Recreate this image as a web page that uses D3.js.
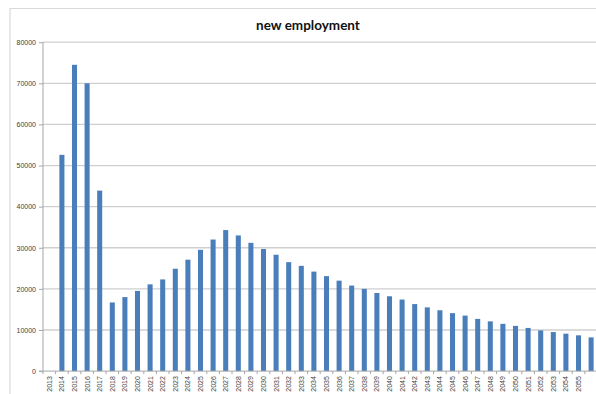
<!DOCTYPE html>
<html>
<head>
<meta charset="utf-8">
<script src="https://cdn.jsdelivr.net/npm/d3@7"></script>
<style>
  html, body { margin: 0; padding: 0; background: #fff; }
  svg { display: block; }
</style>
</head>
<body>
<svg id="chart" width="596" height="394"></svg>
<script>
// Years on the category axis
const years = [
  "2013","2014","2015","2016","2017","2018","2019","2020","2021","2022","2023",
  "2024","2025","2026","2027","2028","2029","2030","2031","2032","2033","2034",
  "2035","2036","2037","2038","2039","2040","2041","2042","2043","2044","2045",
  "2046","2047","2048","2049","2050","2051","2052","2053","2054","2055","2056"
];
// New employment per year
const newEmployment = [
  0, 52600, 74500, 70000, 43900, 16700, 18000, 19500, 21100, 22300, 24900,
  27100, 29500, 32000, 34300, 33000, 31200, 29700, 28300, 26500, 25600, 24200,
  23100, 22000, 20800, 20000, 19000, 18200, 17400, 16300, 15500, 14800, 14100,
  13500, 12700, 12100, 11500, 11000, 10500, 9900, 9500, 9100, 8700, 8200
];
// Value axis ticks
const yTicks = [0, 10000, 20000, 30000, 40000, 50000, 60000, 70000, 80000];
// Year labels written under the axis
const xTickLabels = years.slice(0, 43);

const svg = d3.select("#chart");
const W = 596, H = 394;
const plot = { left: 43, right: 597.4, top: 42.2, bottom: 371.1 };

// outer chart frame
svg.append("path")
  .attr("d", `M10,${H + 2} V8.5 H${W + 2}`)
  .attr("fill", "none")
  .attr("stroke", "#d9d9d9")
  .attr("stroke-width", 1.2);

svg.append("text")
  .attr("x", 308)
  .attr("y", 30)
  .attr("text-anchor", "middle")
  .attr("font-family", "Lato, 'Open Sans', sans-serif")
  .attr("font-weight", "bold")
  .attr("font-size", 13.5)
  .attr("fill", "#111")
  .text("new employment");

const x = d3.scaleBand()
  .domain(years)
  .range([plot.left, plot.right])
  .paddingInner(0.6)
  .paddingOuter(0.3);

const y = d3.scaleLinear()
  .domain([0, 80000])
  .range([plot.bottom, plot.top]);

// horizontal gridlines
svg.append("g")
  .selectAll("line")
  .data(yTicks.filter(d => d > 0))
  .join("line")
  .attr("x1", plot.left)
  .attr("x2", W)
  .attr("y1", d => y(d))
  .attr("y2", d => y(d))
  .attr("stroke", "#cfcfcf")
  .attr("stroke-width", 1.3);

// bars
svg.append("g")
  .selectAll("rect")
  .data(years.map((yr, i) => ({ yr, v: newEmployment[i] })))
  .join("rect")
  .attr("x", d => x(d.yr))
  .attr("width", x.bandwidth())
  .attr("y", d => y(d.v))
  .attr("height", d => y(0) - y(d.v))
  .attr("fill", "#4a7ebb");

// value axis
const yAxis = d3.axisLeft(y)
  .tickValues(yTicks)
  .tickSize(4)
  .tickPadding(3)
  .tickFormat(d3.format("d"));

const gy = svg.append("g")
  .attr("transform", `translate(${plot.left},0)`)
  .call(yAxis);
gy.select(".domain").attr("stroke", "#a6a6a6").attr("d", `M-4,${plot.bottom}H0V${plot.top}`);
gy.selectAll(".tick line").attr("stroke", "#a6a6a6");
gy.selectAll(".tick text")
  .attr("font-family", "'Liberation Sans', Arial, sans-serif")
  .attr("font-size", 7)
  .attr("fill", "#404040");

// category axis
const xAxis = d3.axisBottom(x)
  .tickValues(xTickLabels)
  .tickSize(0)
  .tickPadding(0);

const gx = svg.append("g")
  .attr("transform", `translate(0,${plot.bottom})`)
  .call(xAxis);
gx.select(".domain").attr("stroke", "#a6a6a6").attr("d", `M${plot.left},0H${W}`);
gx.selectAll(".tick text")
  .attr("font-family", "'Liberation Sans', Arial, sans-serif")
  .attr("font-size", 7)
  .attr("fill", "#404040")
  .attr("text-anchor", "end")
  .attr("transform", "translate(0,5) rotate(-90)")
  .attr("x", 0)
  .attr("y", 0)
  .attr("dy", "0.35em");

// small tick marks between categories
const step = x.step();
svg.append("g")
  .selectAll("line")
  .data(years)
  .join("line")
  .attr("x1", d => x(d) - step * 0.3)
  .attr("x2", d => x(d) - step * 0.3)
  .attr("y1", plot.bottom)
  .attr("y2", plot.bottom + 3)
  .attr("stroke", "#a6a6a6");
</script>
</body>
</html>
